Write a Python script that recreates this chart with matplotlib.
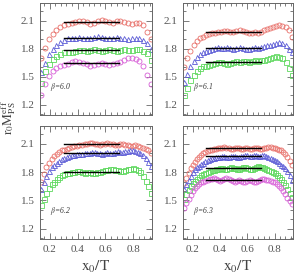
import numpy as np
import matplotlib
matplotlib.use("Agg")
import matplotlib.pyplot as plt
from matplotlib.ticker import MultipleLocator

# ---------------- data ----------------
betas = ["6.0", "6.1", "6.2", "6.3"]
x_start, x_end = 0.14, 0.925

b60_red = [1.70, 1.81, 1.90, 1.96, 2.00, 2.03, 2.05, 2.07, 2.08, 2.09, 2.10, 2.10, 2.09, 2.07, 2.08,
           2.10, 2.11, 2.10, 2.09, 2.08, 2.10, 2.10, 2.09, 2.08, 2.06, 2.08, 2.08, 2.05, 1.98, 1.90]
b60_blue = [1.55, 1.65, 1.74, 1.80, 1.84, 1.87, 1.89, 1.91, 1.92, 1.92, 1.93, 1.92, 1.91, 1.92, 1.93,
            1.94, 1.93, 1.92, 1.91, 1.92, 1.93, 1.92, 1.91, 1.90, 1.91, 1.92, 1.91, 1.89, 1.86, 1.80]
b60_green = [1.43, 1.56, 1.64, 1.69, 1.72, 1.74, 1.76, 1.77, 1.77, 1.78, 1.79, 1.79, 1.78, 1.79, 1.80,
             1.79, 1.78, 1.79, 1.80, 1.79, 1.78, 1.79, 1.80, 1.79, 1.79, 1.80, 1.80, 1.78, 1.75, 1.68]
b60_mag = [1.30, 1.42, 1.51, 1.56, 1.59, 1.61, 1.63, 1.64, 1.66, 1.67, 1.66, 1.65, 1.64, 1.62, 1.63,
           1.64, 1.65, 1.64, 1.63, 1.64, 1.65, 1.66, 1.68, 1.70, 1.70, 1.69, 1.67, 1.62, 1.52, 1.42]

b61_red = [1.60, 1.70, 1.78, 1.84, 1.88, 1.91, 1.93, 1.95, 1.96, 1.97, 1.97, 1.98, 1.98, 1.99, 1.99,
           1.98, 1.98, 1.99, 2.00, 1.99, 1.98, 1.97, 1.97, 1.98, 1.97, 1.98, 2.00, 2.01, 2.02, 2.03,
           2.04, 2.05, 2.04, 2.03, 2.00, 1.93]
b61_blue = [1.44, 1.53, 1.61, 1.67, 1.71, 1.74, 1.77, 1.78, 1.79, 1.80, 1.81, 1.82, 1.81, 1.81, 1.82,
            1.81, 1.80, 1.81, 1.82, 1.81, 1.80, 1.80, 1.81, 1.82, 1.81, 1.82, 1.83, 1.84, 1.84, 1.85,
            1.86, 1.87, 1.86, 1.84, 1.80, 1.76]
b61_green = [1.30, 1.38, 1.46, 1.52, 1.56, 1.59, 1.61, 1.62, 1.63, 1.64, 1.65, 1.66, 1.66, 1.65, 1.64,
             1.65, 1.66, 1.67, 1.66, 1.67, 1.67, 1.66, 1.67, 1.68, 1.67, 1.68, 1.68, 1.69, 1.70, 1.71,
             1.72, 1.71, 1.70, 1.66, 1.59, 1.52]

b62_red = [1.70, 1.78, 1.85, 1.90, 1.94, 1.97, 1.99, 2.01, 2.03, 2.04, 2.05, 2.06, 2.07, 2.08, 2.08,
           2.09, 2.09, 2.10, 2.10, 2.11, 2.11, 2.10, 2.10, 2.09, 2.10, 2.10, 2.11, 2.10, 2.10, 2.09,
           2.09, 2.10, 2.10, 2.09, 2.09, 2.08, 2.08, 2.09, 2.08, 2.07, 2.06, 2.05, 2.03, 2.00]
b62_blue = [1.62, 1.70, 1.76, 1.81, 1.85, 1.88, 1.90, 1.92, 1.94, 1.95, 1.96, 1.97, 1.98, 1.98, 1.99,
            1.99, 1.99, 2.00, 2.00, 2.00, 2.01, 2.01, 2.00, 2.00, 1.99, 2.00, 2.01, 2.00, 2.00, 2.01,
            2.02, 2.01, 2.01, 2.02, 2.02, 2.03, 2.03, 2.02, 2.01, 2.00, 1.98, 1.95, 1.91, 1.86]
b62_green = [1.45, 1.52, 1.58, 1.63, 1.67, 1.70, 1.73, 1.75, 1.77, 1.78, 1.79, 1.79, 1.80, 1.80, 1.81,
             1.81, 1.80, 1.79, 1.80, 1.80, 1.79, 1.79, 1.80, 1.80, 1.81, 1.82, 1.82, 1.83, 1.83, 1.82,
             1.82, 1.81, 1.81, 1.82, 1.83, 1.83, 1.84, 1.83, 1.82, 1.80, 1.76, 1.71, 1.65, 1.58]

b63_red = [1.68, 1.74, 1.79, 1.84, 1.88, 1.91, 1.94, 1.96, 1.98, 2.00, 2.01, 2.02, 2.03, 2.04, 2.05,
           2.05, 2.06, 2.06, 2.06, 2.07, 2.06, 2.06, 2.05, 2.05, 2.06, 2.06, 2.06, 2.05, 2.05, 2.06,
           2.06, 2.05, 2.05, 2.06, 2.06, 2.06, 2.05, 2.05, 2.06, 2.06, 2.07, 2.07, 2.06, 2.06, 2.05,
           2.04, 2.03, 2.01, 1.99, 1.96, 1.92, 1.88]
b63_blue = [1.62, 1.67, 1.72, 1.76, 1.80, 1.83, 1.85, 1.87, 1.89, 1.90, 1.92, 1.93, 1.94, 1.95, 1.95,
            1.96, 1.96, 1.96, 1.97, 1.97, 1.96, 1.96, 1.97, 1.97, 1.97, 1.96, 1.96, 1.97, 1.97, 1.98,
            1.98, 1.97, 1.97, 1.98, 1.98, 1.97, 1.97, 1.98, 1.98, 1.97, 1.96, 1.95, 1.94, 1.93, 1.92,
            1.90, 1.88, 1.86, 1.84, 1.81, 1.77, 1.72]
b63_green = [1.52, 1.57, 1.61, 1.65, 1.68, 1.71, 1.73, 1.75, 1.77, 1.78, 1.79, 1.80, 1.81, 1.82, 1.82,
             1.83, 1.83, 1.84, 1.84, 1.83, 1.83, 1.84, 1.85, 1.84, 1.84, 1.83, 1.83, 1.84, 1.85, 1.85,
             1.84, 1.83, 1.83, 1.84, 1.85, 1.86, 1.85, 1.85, 1.84, 1.83, 1.82, 1.81, 1.80, 1.79, 1.77,
             1.75, 1.73, 1.70, 1.66, 1.62, 1.58, 1.54]
b63_mag = [1.42, 1.47, 1.52, 1.56, 1.60, 1.63, 1.65, 1.67, 1.69, 1.70, 1.71, 1.72, 1.73, 1.73, 1.74,
           1.73, 1.72, 1.71, 1.72, 1.73, 1.74, 1.73, 1.72, 1.71, 1.70, 1.71, 1.72, 1.71, 1.70, 1.70,
           1.71, 1.72, 1.71, 1.70, 1.70, 1.71, 1.72, 1.73, 1.73, 1.72, 1.72, 1.71, 1.70, 1.69, 1.67,
           1.65, 1.63, 1.60, 1.57, 1.53, 1.49, 1.46]

# plateau fits (value per series), fit range
plateaus = {
    "6.0": [2.09, 1.92, 1.785, 1.65],
    "6.1": [1.98, 1.81, 1.66],
    "6.2": [2.10, 2.00, 1.80],
    "6.3": [2.055, 1.97, 1.84, 1.72],
}
fit_range = [0.3, 0.7]

series = {
    "6.0": [b60_red, b60_blue, b60_green, b60_mag],
    "6.1": [b61_red, b61_blue, b61_green],
    "6.2": [b62_red, b62_blue, b62_green],
    "6.3": [b63_red, b63_blue, b63_green, b63_mag],
}

colors = ["#e8706a", "#5b5bd6", "#5ed85e", "#d85ed8"]
markers = ["o", "^", "s", "o"]

# ---------------- figure ----------------
plt.rcParams["font.family"] = ["Liberation Serif", "DejaVu Serif"]
plt.rcParams["mathtext.fontset"] = "stix"
fig = plt.figure(figsize=(2.98, 2.79), dpi=100)

W, H = 298.0, 279.0
boxes = {
    "6.0": (40, 3, 152, 115),
    "6.1": (183, 3, 293, 115),
    "6.2": (40, 126, 152, 239),
    "6.3": (183, 126, 293, 239),
}
gray = "#666666"

for i, b in enumerate(betas):
    x0, y0, x1, y1 = boxes[b]
    ax = fig.add_axes([x0 / W, 1 - y1 / H, (x1 - x0) / W, (y1 - y0) / H])
    for j, ys in enumerate(series[b]):
        xs = np.linspace(x_start, x_end, len(ys))
        ax.plot(xs, ys, linestyle="none", marker=markers[j], markersize=3.6,
                markerfacecolor="none", markeredgecolor=colors[j], markeredgewidth=0.6)
    for p in plateaus[b]:
        ax.plot(fit_range, [p, p], color="black", lw=1.0, zorder=5)
    ax.set_xlim(0.13, 0.935)
    ax.set_ylim(1.09, 2.29)
    ax.xaxis.set_minor_locator(MultipleLocator(0.04))
    ax.yaxis.set_minor_locator(MultipleLocator(0.1))
    ax.set_yticks([1.2, 1.5, 1.8, 2.1])
    ax.set_yticklabels(["1.2", "1.5", "1.8", "2.1"])
    ax.set_xticks([0.2, 0.4, 0.6, 0.8])
    ax.set_xticklabels(["0.2", "0.4", "0.6", "0.8"])
    ax.tick_params(which="both", direction="in", top=True, right=True,
                   colors=gray, labelsize=8, labelcolor="#555555", width=0.6)
    ax.tick_params(which="major", length=4, pad=4)
    ax.tick_params(which="minor", length=2)
    for s in ax.spines.values():
        s.set_color(gray)
        s.set_linewidth(0.7)
    if i < 2:
        ax.tick_params(labelbottom=False)
    ax.text(0.2, 1.37, r"$\beta$=" + b, fontsize=5.5, color="#333333", style="italic")

fig.text(9 / W, 1 - 118 / H, r"$\mathrm{r_0 M_{PS}^{eff}}$", rotation=90,
         ha="center", va="center", fontsize=9.5, color="#444444")
for xc in [96, 238]:
    fig.text(xc / W, 1 - 267 / H, r"$\mathrm{x_0/T}$", ha="center", va="center",
             fontsize=11, color="#444444")

fig.savefig("out.png", dpi=100)
